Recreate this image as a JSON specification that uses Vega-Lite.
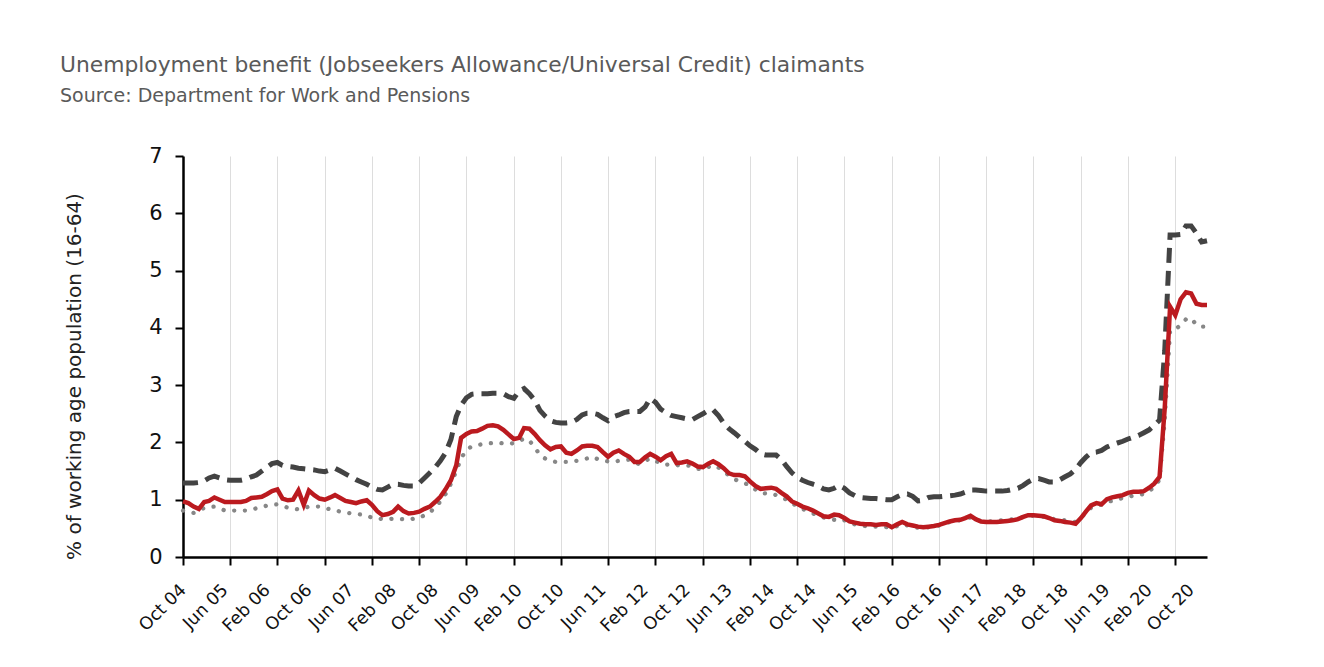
{
  "$schema": "https://vega.github.io/schema/vega-lite/v6.json",
  "width": 1024,
  "height": 401,
  "autosize": {"type": "none"},
  "padding": {"left": 183, "top": 156, "right": 117, "bottom": 110},
  "background": "white",
  "title": {
    "text": "Unemployment benefit (Jobseekers Allowance/Universal Credit) claimants",
    "subtitle": "Source: Department for Work and Pensions",
    "anchor": "start",
    "frame": "group",
    "dx": -123,
    "offset": 39,
    "font": "DejaVu Sans",
    "fontSize": 21.8,
    "fontWeight": "normal",
    "color": "#5a5a5a",
    "subtitleFont": "DejaVu Sans",
    "subtitleFontSize": 19,
    "subtitleColor": "#5a5a5a",
    "subtitlePadding": 10
  },
  "config": {
    "view": {"stroke": null},
    "font": "DejaVu Sans"
  },
  "data": {
    "values": [
      {"d": "2004-10-01", "D": 1.29, "R": 0.97, "G": 0.81},
      {"d": "2004-11-01", "D": 1.29, "R": 0.94, "G": 0.79},
      {"d": "2004-12-01", "D": 1.29, "R": 0.88, "G": 0.77},
      {"d": "2005-01-01", "D": 1.30, "R": 0.84, "G": 0.80},
      {"d": "2005-02-01", "D": 1.33, "R": 0.96, "G": 0.86},
      {"d": "2005-03-01", "D": 1.38, "R": 0.98, "G": 0.87},
      {"d": "2005-04-01", "D": 1.41, "R": 1.04, "G": 0.88},
      {"d": "2005-05-01", "D": 1.38, "R": 1.00, "G": 0.85},
      {"d": "2005-06-01", "D": 1.35, "R": 0.96, "G": 0.81},
      {"d": "2005-07-01", "D": 1.34, "R": 0.96, "G": 0.81},
      {"d": "2005-08-01", "D": 1.34, "R": 0.96, "G": 0.81},
      {"d": "2005-09-01", "D": 1.34, "R": 0.96, "G": 0.81},
      {"d": "2005-10-01", "D": 1.36, "R": 0.98, "G": 0.81},
      {"d": "2005-11-01", "D": 1.40, "R": 1.03, "G": 0.83},
      {"d": "2005-12-01", "D": 1.43, "R": 1.04, "G": 0.85},
      {"d": "2006-01-01", "D": 1.50, "R": 1.05, "G": 0.87},
      {"d": "2006-02-01", "D": 1.57, "R": 1.10, "G": 0.90},
      {"d": "2006-03-01", "D": 1.63, "R": 1.15, "G": 0.91},
      {"d": "2006-04-01", "D": 1.65, "R": 1.18, "G": 0.92},
      {"d": "2006-05-01", "D": 1.60, "R": 1.02, "G": 0.89},
      {"d": "2006-06-01", "D": 1.58, "R": 0.99, "G": 0.86},
      {"d": "2006-07-01", "D": 1.57, "R": 1.00, "G": 0.85},
      {"d": "2006-08-01", "D": 1.55, "R": 1.16, "G": 0.83},
      {"d": "2006-09-01", "D": 1.54, "R": 0.91, "G": 0.85},
      {"d": "2006-10-01", "D": 1.53, "R": 1.16, "G": 0.88},
      {"d": "2006-11-01", "D": 1.52, "R": 1.08, "G": 0.88},
      {"d": "2006-12-01", "D": 1.50, "R": 1.02, "G": 0.88},
      {"d": "2007-01-01", "D": 1.49, "R": 1.00, "G": 0.86},
      {"d": "2007-02-01", "D": 1.52, "R": 1.04, "G": 0.83},
      {"d": "2007-03-01", "D": 1.55, "R": 1.08, "G": 0.82},
      {"d": "2007-04-01", "D": 1.50, "R": 1.03, "G": 0.79},
      {"d": "2007-05-01", "D": 1.45, "R": 0.98, "G": 0.78},
      {"d": "2007-06-01", "D": 1.40, "R": 0.96, "G": 0.76},
      {"d": "2007-07-01", "D": 1.35, "R": 0.94, "G": 0.75},
      {"d": "2007-08-01", "D": 1.31, "R": 0.97, "G": 0.74},
      {"d": "2007-09-01", "D": 1.27, "R": 0.99, "G": 0.72},
      {"d": "2007-10-01", "D": 1.22, "R": 0.91, "G": 0.69},
      {"d": "2007-11-01", "D": 1.18, "R": 0.80, "G": 0.68},
      {"d": "2007-12-01", "D": 1.17, "R": 0.73, "G": 0.66},
      {"d": "2008-01-01", "D": 1.22, "R": 0.75, "G": 0.66},
      {"d": "2008-02-01", "D": 1.27, "R": 0.79, "G": 0.67},
      {"d": "2008-03-01", "D": 1.27, "R": 0.88, "G": 0.67},
      {"d": "2008-04-01", "D": 1.25, "R": 0.80, "G": 0.66},
      {"d": "2008-05-01", "D": 1.24, "R": 0.76, "G": 0.65},
      {"d": "2008-06-01", "D": 1.24, "R": 0.77, "G": 0.67},
      {"d": "2008-07-01", "D": 1.29, "R": 0.79, "G": 0.68},
      {"d": "2008-08-01", "D": 1.38, "R": 0.84, "G": 0.73},
      {"d": "2008-09-01", "D": 1.47, "R": 0.88, "G": 0.78},
      {"d": "2008-10-01", "D": 1.56, "R": 0.96, "G": 0.86},
      {"d": "2008-11-01", "D": 1.68, "R": 1.05, "G": 0.97},
      {"d": "2008-12-01", "D": 1.82, "R": 1.18, "G": 1.10},
      {"d": "2009-01-01", "D": 2.05, "R": 1.34, "G": 1.28},
      {"d": "2009-02-01", "D": 2.45, "R": 1.60, "G": 1.50},
      {"d": "2009-03-01", "D": 2.65, "R": 2.08, "G": 1.72},
      {"d": "2009-04-01", "D": 2.78, "R": 2.15, "G": 1.87},
      {"d": "2009-05-01", "D": 2.84, "R": 2.19, "G": 1.93},
      {"d": "2009-06-01", "D": 2.85, "R": 2.20, "G": 1.95},
      {"d": "2009-07-01", "D": 2.85, "R": 2.24, "G": 1.97},
      {"d": "2009-08-01", "D": 2.85, "R": 2.29, "G": 1.98},
      {"d": "2009-09-01", "D": 2.86, "R": 2.30, "G": 1.99},
      {"d": "2009-10-01", "D": 2.86, "R": 2.28, "G": 2.00},
      {"d": "2009-11-01", "D": 2.85, "R": 2.22, "G": 1.98},
      {"d": "2009-12-01", "D": 2.80, "R": 2.14, "G": 1.97},
      {"d": "2010-01-01", "D": 2.77, "R": 2.06, "G": 1.99},
      {"d": "2010-02-01", "D": 2.90, "R": 2.08, "G": 2.02},
      {"d": "2010-03-01", "D": 2.94, "R": 2.25, "G": 2.07},
      {"d": "2010-04-01", "D": 2.85, "R": 2.24, "G": 2.03},
      {"d": "2010-05-01", "D": 2.74, "R": 2.15, "G": 1.92},
      {"d": "2010-06-01", "D": 2.56, "R": 2.04, "G": 1.78},
      {"d": "2010-07-01", "D": 2.46, "R": 1.95, "G": 1.72},
      {"d": "2010-08-01", "D": 2.38, "R": 1.88, "G": 1.68},
      {"d": "2010-09-01", "D": 2.35, "R": 1.92, "G": 1.66},
      {"d": "2010-10-01", "D": 2.34, "R": 1.93, "G": 1.66},
      {"d": "2010-11-01", "D": 2.34, "R": 1.82, "G": 1.66},
      {"d": "2010-12-01", "D": 2.35, "R": 1.80, "G": 1.66},
      {"d": "2011-01-01", "D": 2.40, "R": 1.86, "G": 1.68},
      {"d": "2011-02-01", "D": 2.48, "R": 1.93, "G": 1.70},
      {"d": "2011-03-01", "D": 2.51, "R": 1.94, "G": 1.72},
      {"d": "2011-04-01", "D": 2.51, "R": 1.94, "G": 1.75},
      {"d": "2011-05-01", "D": 2.49, "R": 1.92, "G": 1.71},
      {"d": "2011-06-01", "D": 2.43, "R": 1.83, "G": 1.68},
      {"d": "2011-07-01", "D": 2.38, "R": 1.75, "G": 1.67},
      {"d": "2011-08-01", "D": 2.45, "R": 1.82, "G": 1.66},
      {"d": "2011-09-01", "D": 2.48, "R": 1.86, "G": 1.68},
      {"d": "2011-10-01", "D": 2.52, "R": 1.80, "G": 1.69},
      {"d": "2011-11-01", "D": 2.54, "R": 1.75, "G": 1.70},
      {"d": "2011-12-01", "D": 2.54, "R": 1.66, "G": 1.65},
      {"d": "2012-01-01", "D": 2.54, "R": 1.66, "G": 1.62},
      {"d": "2012-02-01", "D": 2.62, "R": 1.74, "G": 1.68},
      {"d": "2012-03-01", "D": 2.77, "R": 1.80, "G": 1.72},
      {"d": "2012-04-01", "D": 2.70, "R": 1.75, "G": 1.68},
      {"d": "2012-05-01", "D": 2.58, "R": 1.69, "G": 1.63},
      {"d": "2012-06-01", "D": 2.52, "R": 1.76, "G": 1.61},
      {"d": "2012-07-01", "D": 2.47, "R": 1.80, "G": 1.62},
      {"d": "2012-08-01", "D": 2.45, "R": 1.64, "G": 1.60},
      {"d": "2012-09-01", "D": 2.43, "R": 1.65, "G": 1.60},
      {"d": "2012-10-01", "D": 2.41, "R": 1.67, "G": 1.60},
      {"d": "2012-11-01", "D": 2.40, "R": 1.63, "G": 1.58},
      {"d": "2012-12-01", "D": 2.45, "R": 1.58, "G": 1.54},
      {"d": "2013-01-01", "D": 2.50, "R": 1.57, "G": 1.53},
      {"d": "2013-02-01", "D": 2.56, "R": 1.63, "G": 1.57},
      {"d": "2013-03-01", "D": 2.57, "R": 1.67, "G": 1.60},
      {"d": "2013-04-01", "D": 2.47, "R": 1.62, "G": 1.56},
      {"d": "2013-05-01", "D": 2.34, "R": 1.55, "G": 1.50},
      {"d": "2013-06-01", "D": 2.24, "R": 1.46, "G": 1.42},
      {"d": "2013-07-01", "D": 2.17, "R": 1.43, "G": 1.36},
      {"d": "2013-08-01", "D": 2.09, "R": 1.43, "G": 1.32},
      {"d": "2013-09-01", "D": 2.02, "R": 1.41, "G": 1.29},
      {"d": "2013-10-01", "D": 1.94, "R": 1.32, "G": 1.24},
      {"d": "2013-11-01", "D": 1.88, "R": 1.24, "G": 1.18},
      {"d": "2013-12-01", "D": 1.80, "R": 1.19, "G": 1.12},
      {"d": "2014-01-01", "D": 1.78, "R": 1.20, "G": 1.11},
      {"d": "2014-02-01", "D": 1.78, "R": 1.21, "G": 1.11},
      {"d": "2014-03-01", "D": 1.78, "R": 1.19, "G": 1.08},
      {"d": "2014-04-01", "D": 1.70, "R": 1.12, "G": 1.04},
      {"d": "2014-05-01", "D": 1.58, "R": 1.06, "G": 1.00},
      {"d": "2014-06-01", "D": 1.47, "R": 0.97, "G": 0.94},
      {"d": "2014-07-01", "D": 1.39, "R": 0.93, "G": 0.89},
      {"d": "2014-08-01", "D": 1.34, "R": 0.88, "G": 0.84},
      {"d": "2014-09-01", "D": 1.30, "R": 0.85, "G": 0.80},
      {"d": "2014-10-01", "D": 1.27, "R": 0.81, "G": 0.76},
      {"d": "2014-11-01", "D": 1.24, "R": 0.76, "G": 0.72},
      {"d": "2014-12-01", "D": 1.19, "R": 0.71, "G": 0.69},
      {"d": "2015-01-01", "D": 1.17, "R": 0.70, "G": 0.66},
      {"d": "2015-02-01", "D": 1.20, "R": 0.74, "G": 0.65},
      {"d": "2015-03-01", "D": 1.25, "R": 0.73, "G": 0.67},
      {"d": "2015-04-01", "D": 1.20, "R": 0.68, "G": 0.64},
      {"d": "2015-05-01", "D": 1.12, "R": 0.62, "G": 0.60},
      {"d": "2015-06-01", "D": 1.07, "R": 0.60, "G": 0.57},
      {"d": "2015-07-01", "D": 1.04, "R": 0.58, "G": 0.56},
      {"d": "2015-08-01", "D": 1.03, "R": 0.57, "G": 0.54},
      {"d": "2015-09-01", "D": 1.02, "R": 0.57, "G": 0.53},
      {"d": "2015-10-01", "D": 1.02, "R": 0.56, "G": 0.53},
      {"d": "2015-11-01", "D": 1.01, "R": 0.57, "G": 0.53},
      {"d": "2015-12-01", "D": 1.00, "R": 0.57, "G": 0.52},
      {"d": "2016-01-01", "D": 1.00, "R": 0.52, "G": 0.51},
      {"d": "2016-02-01", "D": 1.05, "R": 0.57, "G": 0.54},
      {"d": "2016-03-01", "D": 1.09, "R": 0.61, "G": 0.57},
      {"d": "2016-04-01", "D": 1.10, "R": 0.57, "G": 0.55},
      {"d": "2016-05-01", "D": 1.06, "R": 0.55, "G": 0.53},
      {"d": "2016-06-01", "D": 0.98, "R": 0.53, "G": 0.51},
      {"d": "2016-07-01", "D": 0.99, "R": 0.52, "G": 0.51},
      {"d": "2016-08-01", "D": 1.04, "R": 0.53, "G": 0.52},
      {"d": "2016-09-01", "D": 1.05, "R": 0.54, "G": 0.53},
      {"d": "2016-10-01", "D": 1.05, "R": 0.56, "G": 0.55},
      {"d": "2016-11-01", "D": 1.06, "R": 0.59, "G": 0.58},
      {"d": "2016-12-01", "D": 1.07, "R": 0.62, "G": 0.61},
      {"d": "2017-01-01", "D": 1.08, "R": 0.64, "G": 0.63},
      {"d": "2017-02-01", "D": 1.10, "R": 0.65, "G": 0.64},
      {"d": "2017-03-01", "D": 1.13, "R": 0.68, "G": 0.67},
      {"d": "2017-04-01", "D": 1.17, "R": 0.72, "G": 0.69},
      {"d": "2017-05-01", "D": 1.17, "R": 0.66, "G": 0.65},
      {"d": "2017-06-01", "D": 1.16, "R": 0.62, "G": 0.63},
      {"d": "2017-07-01", "D": 1.15, "R": 0.61, "G": 0.63},
      {"d": "2017-08-01", "D": 1.15, "R": 0.61, "G": 0.62},
      {"d": "2017-09-01", "D": 1.15, "R": 0.61, "G": 0.63},
      {"d": "2017-10-01", "D": 1.15, "R": 0.62, "G": 0.64},
      {"d": "2017-11-01", "D": 1.16, "R": 0.63, "G": 0.65},
      {"d": "2017-12-01", "D": 1.18, "R": 0.64, "G": 0.66},
      {"d": "2018-01-01", "D": 1.20, "R": 0.66, "G": 0.67},
      {"d": "2018-02-01", "D": 1.25, "R": 0.70, "G": 0.70},
      {"d": "2018-03-01", "D": 1.31, "R": 0.73, "G": 0.72},
      {"d": "2018-04-01", "D": 1.36, "R": 0.73, "G": 0.72},
      {"d": "2018-05-01", "D": 1.37, "R": 0.72, "G": 0.71},
      {"d": "2018-06-01", "D": 1.34, "R": 0.71, "G": 0.70},
      {"d": "2018-07-01", "D": 1.31, "R": 0.68, "G": 0.68},
      {"d": "2018-08-01", "D": 1.31, "R": 0.64, "G": 0.66},
      {"d": "2018-09-01", "D": 1.35, "R": 0.63, "G": 0.65},
      {"d": "2018-10-01", "D": 1.40, "R": 0.61, "G": 0.64},
      {"d": "2018-11-01", "D": 1.45, "R": 0.60, "G": 0.62},
      {"d": "2018-12-01", "D": 1.53, "R": 0.58, "G": 0.61},
      {"d": "2019-01-01", "D": 1.65, "R": 0.68, "G": 0.68},
      {"d": "2019-02-01", "D": 1.75, "R": 0.80, "G": 0.78},
      {"d": "2019-03-01", "D": 1.82, "R": 0.90, "G": 0.86},
      {"d": "2019-04-01", "D": 1.83, "R": 0.94, "G": 0.90},
      {"d": "2019-05-01", "D": 1.86, "R": 0.92, "G": 0.91},
      {"d": "2019-06-01", "D": 1.92, "R": 1.01, "G": 0.96},
      {"d": "2019-07-01", "D": 1.96, "R": 1.04, "G": 0.98},
      {"d": "2019-08-01", "D": 1.99, "R": 1.06, "G": 1.00},
      {"d": "2019-09-01", "D": 2.02, "R": 1.08, "G": 1.03},
      {"d": "2019-10-01", "D": 2.06, "R": 1.12, "G": 1.05},
      {"d": "2019-11-01", "D": 2.09, "R": 1.14, "G": 1.07},
      {"d": "2019-12-01", "D": 2.12, "R": 1.14, "G": 1.08},
      {"d": "2020-01-01", "D": 2.17, "R": 1.15, "G": 1.10},
      {"d": "2020-02-01", "D": 2.22, "R": 1.21, "G": 1.15},
      {"d": "2020-03-01", "D": 2.30, "R": 1.28, "G": 1.22},
      {"d": "2020-04-01", "D": 2.39, "R": 1.40, "G": 1.35},
      {"d": "2020-05-01", "D": 3.60, "R": 2.60, "G": 2.40},
      {"d": "2020-06-01", "D": 5.62, "R": 4.37, "G": 3.95},
      {"d": "2020-07-01", "D": 5.62, "R": 4.22, "G": 3.97},
      {"d": "2020-08-01", "D": 5.63, "R": 4.50, "G": 4.05},
      {"d": "2020-09-01", "D": 5.78, "R": 4.62, "G": 4.15},
      {"d": "2020-10-01", "D": 5.78, "R": 4.60, "G": 4.17},
      {"d": "2020-11-01", "D": 5.65, "R": 4.42, "G": 4.05},
      {"d": "2020-12-01", "D": 5.50, "R": 4.40, "G": 4.02},
      {"d": "2021-01-01", "D": 5.52, "R": 4.40, "G": 4.02}
    ]
  },
  "transform": [{"fold": ["D", "R", "G"], "as": ["series", "value"]}],
  "layer": [
    {
      "transform": [{"filter": "datum.series === 'G'"}],
      "mark": {"type": "line", "color": "#878787", "strokeWidth": 4.3, "strokeDash": [0.1, 10.6], "strokeCap": "round"},
      "encoding": {
        "x": {
          "field": "d", "type": "temporal",
          "scale": {"type": "utc", "domain": [{"year": 2004, "month": 10, "date": 1, "utc": true}, {"year": 2021, "month": 1, "date": 1, "utc": true}], "nice": false},
          "axis": {
            "orient": "bottom",
            "values": [
              {"year": 2004, "month": 10, "date": 1, "utc": true},
              {"year": 2005, "month": 7, "date": 1, "utc": true},
              {"year": 2006, "month": 4, "date": 1, "utc": true},
              {"year": 2007, "month": 1, "date": 1, "utc": true},
              {"year": 2007, "month": 10, "date": 1, "utc": true},
              {"year": 2008, "month": 7, "date": 1, "utc": true},
              {"year": 2009, "month": 4, "date": 1, "utc": true},
              {"year": 2010, "month": 1, "date": 1, "utc": true},
              {"year": 2010, "month": 10, "date": 1, "utc": true},
              {"year": 2011, "month": 7, "date": 1, "utc": true},
              {"year": 2012, "month": 4, "date": 1, "utc": true},
              {"year": 2013, "month": 1, "date": 1, "utc": true},
              {"year": 2013, "month": 10, "date": 1, "utc": true},
              {"year": 2014, "month": 7, "date": 1, "utc": true},
              {"year": 2015, "month": 4, "date": 1, "utc": true},
              {"year": 2016, "month": 1, "date": 1, "utc": true},
              {"year": 2016, "month": 10, "date": 1, "utc": true},
              {"year": 2017, "month": 7, "date": 1, "utc": true},
              {"year": 2018, "month": 4, "date": 1, "utc": true},
              {"year": 2019, "month": 1, "date": 1, "utc": true},
              {"year": 2019, "month": 10, "date": 1, "utc": true},
              {"year": 2020, "month": 7, "date": 1, "utc": true}
            ],
            "labels": false,
            "title": null,
            "grid": true,
            "gridColor": "#dddddd",
            "gridWidth": 1,
            "ticks": true,
            "tickSize": 8,
            "tickWidth": 2,
            "tickColor": "#000000",
            "domain": true,
            "domainColor": "#000000",
            "domainWidth": 2.5
          }
        },
        "y": {
          "field": "value", "type": "quantitative",
          "scale": {"domain": [0, 7], "nice": false},
          "axis": {
            "values": [0, 1, 2, 3, 4, 5, 6, 7],
            "grid": false,
            "domainColor": "#000000",
            "domainWidth": 2.5,
            "tickColor": "#000000",
            "tickWidth": 2,
            "tickSize": 8,
            "labelFont": "DejaVu Sans",
            "labelFontSize": 21,
            "labelColor": "#111111",
            "labelPadding": 13,
            "title": "% of working age population (16-64)",
            "titleFont": "DejaVu Sans",
            "titleFontSize": 20,
            "titleFontWeight": "normal",
            "titleColor": "#222222",
            "titleAngle": -90,
            "titleX": -109,
            "titleY": 220,
            "titleAlign": "center",
            "titleBaseline": "middle"
          }
        }
      }
    },
    {
      "transform": [{"filter": "datum.series === 'D'"}],
      "mark": {"type": "line", "color": "#434343", "strokeWidth": 5, "strokeDash": [15, 8]},
      "encoding": {
        "x": {"field": "d", "type": "temporal", "scale": {"type": "utc"}, "axis": null},
        "y": {"field": "value", "type": "quantitative", "axis": null}
      }
    },
    {
      "transform": [{"filter": "datum.series === 'R'"}],
      "mark": {"type": "line", "color": "#bb1a1f", "strokeWidth": 4.5},
      "encoding": {
        "x": {
          "field": "d", "type": "temporal", "scale": {"type": "utc"},
          "axis": {
            "orient": "bottom",
            "values": [
              {"year": 2004, "month": 10, "date": 1, "utc": true},
              {"year": 2005, "month": 6, "date": 1, "utc": true},
              {"year": 2006, "month": 2, "date": 1, "utc": true},
              {"year": 2006, "month": 10, "date": 1, "utc": true},
              {"year": 2007, "month": 6, "date": 1, "utc": true},
              {"year": 2008, "month": 2, "date": 1, "utc": true},
              {"year": 2008, "month": 10, "date": 1, "utc": true},
              {"year": 2009, "month": 6, "date": 1, "utc": true},
              {"year": 2010, "month": 2, "date": 1, "utc": true},
              {"year": 2010, "month": 10, "date": 1, "utc": true},
              {"year": 2011, "month": 6, "date": 1, "utc": true},
              {"year": 2012, "month": 2, "date": 1, "utc": true},
              {"year": 2012, "month": 10, "date": 1, "utc": true},
              {"year": 2013, "month": 6, "date": 1, "utc": true},
              {"year": 2014, "month": 2, "date": 1, "utc": true},
              {"year": 2014, "month": 10, "date": 1, "utc": true},
              {"year": 2015, "month": 6, "date": 1, "utc": true},
              {"year": 2016, "month": 2, "date": 1, "utc": true},
              {"year": 2016, "month": 10, "date": 1, "utc": true},
              {"year": 2017, "month": 6, "date": 1, "utc": true},
              {"year": 2018, "month": 2, "date": 1, "utc": true},
              {"year": 2018, "month": 10, "date": 1, "utc": true},
              {"year": 2019, "month": 6, "date": 1, "utc": true},
              {"year": 2020, "month": 2, "date": 1, "utc": true},
              {"year": 2020, "month": 10, "date": 1, "utc": true}
            ],
            "format": "%b %y",
            "labelAngle": -45,
            "labelAlign": "right",
            "labelBaseline": "middle",
            "labelPadding": 30,
            "labelFont": "DejaVu Sans",
            "labelFontSize": 17.5,
            "labelColor": "#111111",
            "labelOverlap": false,
            "labelBound": false,
            "labelFlush": false,
            "title": null,
            "grid": false,
            "ticks": false,
            "domain": false
          }
        },
        "y": {"field": "value", "type": "quantitative", "axis": null}
      }
    }
  ],
  "resolve": {"axis": {"x": "independent", "y": "independent"}}
}
